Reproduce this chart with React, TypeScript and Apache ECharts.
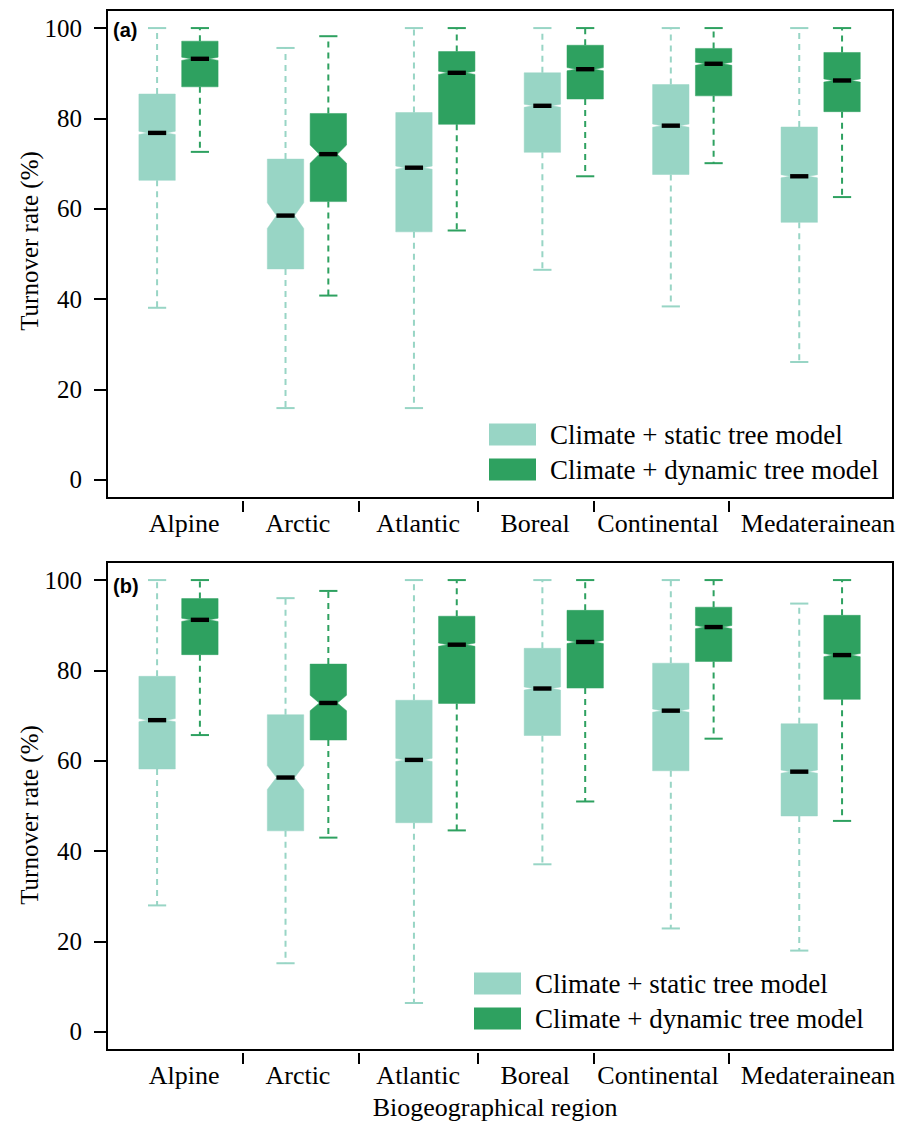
import React, { useEffect, useRef } from "react";
import * as echarts from "echarts";

const regions = ["Alpine", "Arctic", "Atlantic", "Boreal", "Continental", "Medaterainean"];
const seriesNames = ["Climate + static tree model", "Climate + dynamic tree model"];
const yTicks = [0, 20, 40, 60, 80, 100];
// x positions of the boundary ticks and of the region labels (box units: static = 3i+1, dynamic = 3i+2)
const xTickPositions = [3.01, 5.72, 8.5, 11.21, 14.36];
const xLabelPositions = [1.63, 4.29, 7.1, 9.83, 12.7, 16.44];

// [lower whisker, Q1, median, Q3, upper whisker]
const aStatic = [
  [38.1, 66.3, 76.8, 85.4, 100],
  [15.9, 46.7, 58.5, 71.0, 95.6],
  [15.9, 54.9, 69.1, 81.3, 100],
  [46.5, 72.5, 82.8, 90.1, 100],
  [38.4, 67.6, 78.4, 87.5, 100],
  [26.1, 57.0, 67.2, 78.1, 100],
];
const aDynamic = [
  [72.6, 87.0, 93.2, 97.1, 100],
  [40.8, 61.6, 72.1, 81.1, 98.2],
  [55.2, 78.7, 90.1, 94.8, 100],
  [67.2, 84.3, 90.9, 96.2, 100],
  [70.1, 85.0, 92.1, 95.5, 100],
  [62.6, 81.5, 88.4, 94.6, 100],
];
const bStatic = [
  [28.0, 58.2, 69.0, 78.7, 100],
  [15.2, 44.5, 56.3, 70.2, 96.0],
  [6.4, 46.3, 60.2, 73.4, 100],
  [37.1, 65.6, 76.0, 84.9, 100],
  [22.9, 57.8, 71.1, 81.6, 100],
  [18.0, 47.8, 57.6, 68.2, 94.8],
];
const bDynamic = [
  [65.7, 83.5, 91.2, 95.9, 100],
  [43.0, 64.6, 72.8, 81.4, 97.6],
  [44.6, 72.7, 85.7, 92.0, 100],
  [51.0, 76.1, 86.3, 93.3, 100],
  [64.9, 82.0, 89.6, 94.0, 100],
  [46.7, 73.6, 83.4, 92.2, 100],
];
// notch half-heights (median +/-)
const aStaticNotch = [0.35, 2.85, 0.35, 0.35, 0.35, 0.35];
const aDynamicNotch = [0.35, 2.0, 0.35, 0.35, 0.35, 0.35];
const bStaticNotch = [0.35, 2.65, 0.35, 0.35, 0.35, 0.35];
const bDynamicNotch = [0.35, 1.7, 0.35, 0.35, 0.35, 0.35];

const STATIC_COLOR = "#98d5c5";
const DYNAMIC_COLOR = "#2ea160";
const BOX_W = 0.85;
const SERIF = "Liberation Serif";

function buildData(stats: number[][], notch: number[], offset: number) {
  return stats.map((s, i) => [3 * i + 1 + offset, s[0], s[1], s[2] - notch[i], s[2], s[2] + notch[i], s[3], s[4]]);
}

function renderBox(color: string) {
  return (params: any, api: any) => {
    const x = api.value(0);
    const vals = [1, 2, 3, 4, 5, 6, 7].map((k) => api.coord([x, api.value(k)])[1]);
    const [yLo, yQ1, yNlo, yMed, yNhi, yQ3, yHi] = vals;
    const cx = api.coord([x, 0])[0];
    const hw = api.size([BOX_W, 0])[0] / 2;
    const dash = { stroke: color, lineWidth: 2, lineDash: [6, 5], fill: null };
    const solid = { stroke: color, lineWidth: 2, fill: null };
    return {
      type: "group",
      children: [
        { type: "line", shape: { x1: cx, y1: yQ3, x2: cx, y2: yHi }, style: dash },
        { type: "line", shape: { x1: cx, y1: yQ1, x2: cx, y2: yLo }, style: dash },
        { type: "line", shape: { x1: cx - hw / 2, y1: yHi, x2: cx + hw / 2, y2: yHi }, style: solid },
        { type: "line", shape: { x1: cx - hw / 2, y1: yLo, x2: cx + hw / 2, y2: yLo }, style: solid },
        {
          type: "polygon",
          shape: {
            points: [
              [cx - hw, yQ3],
              [cx + hw, yQ3],
              [cx + hw, yNhi],
              [cx + hw / 2, yMed],
              [cx + hw, yNlo],
              [cx + hw, yQ1],
              [cx - hw, yQ1],
              [cx - hw, yNlo],
              [cx - hw / 2, yMed],
              [cx - hw, yNhi],
            ],
          },
          style: { fill: color, stroke: color, lineWidth: 0.5 },
        },
        { type: "rect", shape: { x: cx - hw / 2, y: yMed - 2.2, width: hw, height: 4.4 }, style: { fill: "#000" } },
      ],
    };
  };
}

function makeSeries(name: string, color: string, data: number[][], idx: number) {
  return {
    type: "custom",
    name,
    xAxisIndex: idx,
    yAxisIndex: idx,
    itemStyle: { color },
    renderItem: renderBox(color),
    encode: { x: 0, y: [1, 2, 3, 4, 5, 6, 7] },
    data,
    z: 5,
  };
}

function xAxisFor(idx: number) {
  return {
    type: "value",
    gridIndex: idx,
    position: "bottom",
    min: -0.17,
    max: 18.19,
    offset: 3,
    axisLine: { show: false, onZero: false },
    splitLine: { show: false },
    axisTick: { show: true, length: 11, customValues: xTickPositions, lineStyle: { color: "#000", width: 2 } },
    axisLabel: {
      show: true,
      customValues: xLabelPositions,
      margin: 9,
      fontFamily: SERIF,
      fontSize: 26,
      color: "#000",
      formatter: (v: number) => {
        let best = 0;
        let d = Infinity;
        xLabelPositions.forEach((p, i) => {
          if (Math.abs(p - v) < d) {
            d = Math.abs(p - v);
            best = i;
          }
        });
        return regions[best];
      },
    },
  };
}

function yAxisFor(idx: number) {
  return {
    type: "value",
    gridIndex: idx,
    position: "left",
    min: -4,
    max: 104,
    axisLine: { show: true, onZero: false, lineStyle: { color: "#000", width: 2 } },
    splitLine: { show: false },
    axisTick: { show: true, length: 13, customValues: yTicks, lineStyle: { color: "#000", width: 2 } },
    axisLabel: { show: true, customValues: yTicks, margin: 25, fontFamily: SERIF, fontSize: 25, color: "#000" },
  };
}

function legendFor(left: number, top: number) {
  return {
    orient: "vertical",
    left,
    top,
    padding: 0,
    itemWidth: 47,
    itemHeight: 22,
    itemGap: 8,
    icon: "rect",
    selectedMode: false,
    data: seriesNames,
    textStyle: { fontFamily: SERIF, fontSize: 27, color: "#000", lineHeight: 22, padding: [0, 0, 0, 9] },
  };
}

export default function App() {
  const ref = useRef<HTMLDivElement>(null);
  useEffect(() => {
    if (!ref.current) return;
    const chart = echarts.init(ref.current, null, { renderer: "svg" });
    const option = {
      animation: false,
      backgroundColor: "#fff",
      grid: [
        { left: 107, top: 10, width: 786, height: 488, show: true, borderColor: "#000", borderWidth: 2, backgroundColor: "transparent" },
        { left: 107, top: 562, width: 786, height: 488, show: true, borderColor: "#000", borderWidth: 2, backgroundColor: "transparent" },
      ],
      xAxis: [xAxisFor(0), xAxisFor(1)],
      yAxis: [yAxisFor(0), yAxisFor(1)],
      legend: [legendFor(489, 421), legendFor(474, 970)],
      series: [
        makeSeries(seriesNames[0], STATIC_COLOR, buildData(aStatic, aStaticNotch, 0), 0),
        makeSeries(seriesNames[1], DYNAMIC_COLOR, buildData(aDynamic, aDynamicNotch, 1), 0),
        makeSeries(seriesNames[0], STATIC_COLOR, buildData(bStatic, bStaticNotch, 0), 1),
        makeSeries(seriesNames[1], DYNAMIC_COLOR, buildData(bDynamic, bDynamicNotch, 1), 1),
      ],
      graphic: [
        { type: "text", x: 113, y: 30, style: { text: "(a)", fontFamily: "Liberation Sans", fontWeight: "bold", fontSize: 20, fill: "#000", verticalAlign: "middle" } },
        { type: "text", x: 113, y: 586, style: { text: "(b)", fontFamily: "Liberation Sans", fontWeight: "bold", fontSize: 20, fill: "#000", verticalAlign: "middle" } },
        { type: "text", x: 29, y: 241, rotation: Math.PI / 2, style: { text: "Turnover rate (%)", fontFamily: SERIF, fontSize: 25, fill: "#000", align: "center", verticalAlign: "middle" } },
        { type: "text", x: 29, y: 815, rotation: Math.PI / 2, style: { text: "Turnover rate (%)", fontFamily: SERIF, fontSize: 25, fill: "#000", align: "center", verticalAlign: "middle" } },
        { type: "text", x: 495, y: 1107, style: { text: "Biogeographical region", fontFamily: SERIF, fontSize: 26, fill: "#000", align: "center", verticalAlign: "middle" } },
      ],
    };
    chart.setOption(option as any);
    return () => chart.dispose();
  }, []);
  return <div ref={ref} style={{ position: "fixed", left: 0, top: 0, width: 912, height: 1124, background: "#fff" }} />;
}
